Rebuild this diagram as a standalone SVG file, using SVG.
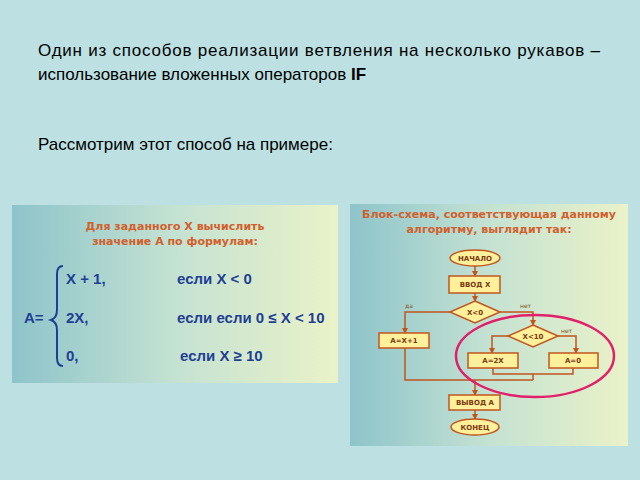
<svg xmlns="http://www.w3.org/2000/svg" width="640" height="480" viewBox="0 0 640 480">
<style>
.t{font-family:"Liberation Sans",Arial,sans-serif;font-size:17px;fill:#000}
.h{font-family:"DejaVu Sans",sans-serif;font-weight:bold;font-size:11px;fill:#d2602c;text-anchor:middle}
.f{font-family:"Liberation Sans",Arial,sans-serif;font-weight:bold;font-size:15px;fill:#1f3f95}
.b{fill:#fff09c;stroke:#c0561e;stroke-width:1.5}
.bt{font-family:"DejaVu Sans",sans-serif;font-weight:bold;font-size:7px;fill:#7a3a10;text-anchor:middle}
.c{fill:none;stroke:#c0561e;stroke-width:1.5}
.l{font-family:"DejaVu Sans",sans-serif;font-size:6px;fill:#8a4a20}
</style>
<defs>
<linearGradient id="g" x1="0" x2="1" y1="0" y2="0"><stop offset="0" stop-color="#8ec4ca"/><stop offset="0.5" stop-color="#c4e2d2"/><stop offset="1" stop-color="#eaf2c8"/></linearGradient>
<marker id="a" markerWidth="6" markerHeight="6" refX="5" refY="3" orient="auto" markerUnits="userSpaceOnUse"><path d="M0,0 L6,3 L0,6 Z" fill="#c0561e"/></marker>
</defs>
<rect width="640" height="480" fill="#bde0e2"/>
<text class="t" x="38" y="56" textLength="562" lengthAdjust="spacing">Один из способов реализации ветвления на несколько рукавов –</text>
<text class="t" x="38" y="80">использование вложенных операторов <tspan font-weight="bold">IF</tspan></text>
<text class="t" x="38" y="150">Рассмотрим этот способ на примере:</text>
<g id="formula">
<rect x="12" y="205" width="326" height="178" fill="url(#g)"/>
<text class="h" x="175" y="230">Для заданного X вычислить</text>
<text class="h" x="175" y="245">значение A по формулам:</text>
<text class="f" x="24" y="323" font-weight="normal" font-size="16">A=</text>
<path d="M63,266 Q57,266 57,274 L57,310 Q57,318 51,320 Q57,322 57,330 L57,358 Q57,366 63,366" fill="none" stroke="#1f3f95" stroke-width="2"/>
<text class="f" x="66" y="284">X + 1,</text>
<text class="f" x="177" y="284">если X &lt; 0</text>
<text class="f" x="66" y="323">2X,</text>
<text class="f" x="177" y="323">если если 0 ≤ X &lt; 10</text>
<text class="f" x="66" y="361">0,</text>
<text class="f" x="180" y="361">если X ≥ 10</text>
</g>
<rect x="350" y="204" width="278" height="242" fill="url(#g)"/>
<text class="h" x="489" y="218">Блок-схема, соответствующая данному</text>
<text class="h" x="489" y="233">алгоритму, выглядит так:</text>
<g id="connectors">
<path class="c" d="M475,266 V276" marker-end="url(#a)"/>
<path class="c" d="M475,293 V301" marker-end="url(#a)"/>
<path class="c" d="M450,312 H405 V333" marker-end="url(#a)"/>
<path class="c" d="M500,312 H533 V325" marker-end="url(#a)"/>
<path class="c" d="M508,336 H492 V353" marker-end="url(#a)"/>
<path class="c" d="M558,336 H576 V353" marker-end="url(#a)"/>
<path class="c" d="M493,368 V374 H573 V368"/>
<path class="c" d="M533,374 V380"/>
<path class="c" d="M405,348 V380 H533"/>
<path class="c" d="M475,380 V395" marker-end="url(#a)"/>
<path class="c" d="M475,410 V419" marker-end="url(#a)"/>
</g>
<text class="l" x="405" y="308">да</text>
<text class="l" x="520" y="308">нет</text>
<text class="l" x="561" y="333">нет</text>
<g id="start"><ellipse class="b" cx="475" cy="258" rx="25" ry="8"/><text class="bt" x="475" y="261">НАЧАЛО</text></g>
<g id="input"><rect class="b" x="449" y="276" width="51" height="17"/><text class="bt" x="475" y="287">ВВОД X</text></g>
<g id="d1"><path class="b" d="M475,301 L500,312 L475,323 L450,312 Z"/><text class="bt" x="475" y="315">X&lt;0</text></g>
<g id="a1"><rect class="b" x="379" y="333" width="50" height="15"/><text class="bt" x="404" y="343">A=X+1</text></g>
<g id="d2"><path class="b" d="M533,325 L558,336 L533,347 L508,336 Z"/><text class="bt" x="533" y="339">X&lt;10</text></g>
<g id="a2"><rect class="b" x="468" y="353" width="50" height="15"/><text class="bt" x="493" y="363">A=2X</text></g>
<g id="a3"><rect class="b" x="549" y="353" width="49" height="15"/><text class="bt" x="573" y="363">A=0</text></g>
<g id="output"><rect class="b" x="449" y="395" width="51" height="15"/><text class="bt" x="475" y="405">ВЫВОД A</text></g>
<g id="end"><ellipse class="b" cx="475" cy="427" rx="24" ry="8"/><text class="bt" x="475" y="430">КОНЕЦ</text></g>
<ellipse cx="535" cy="356" rx="79" ry="41" fill="none" stroke="#e0206a" stroke-width="2.5"/>
</svg>
